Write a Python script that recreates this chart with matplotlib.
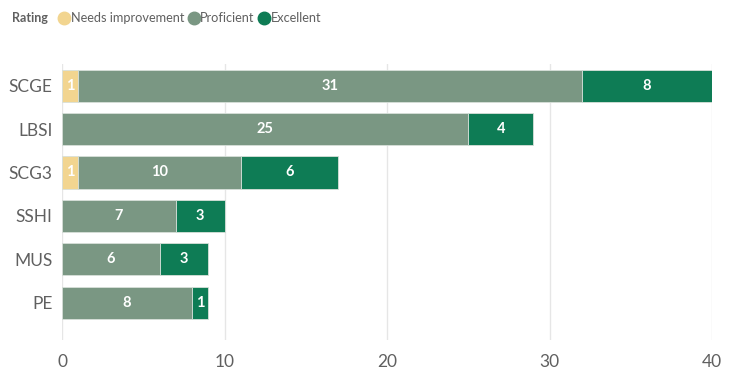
import matplotlib
matplotlib.use('Agg')
import matplotlib.pyplot as plt
from matplotlib.lines import Line2D
import numpy as np

# scores per subject
subjects = ['SCGE', 'LBSI', 'SCG3', 'SSHI', 'MUS', 'PE']
needs_improvement = [1, 0, 1, 0, 0, 0]
proficient = [31, 25, 10, 7, 6, 8]
excellent = [8, 4, 6, 3, 3, 1]

ratings = ['Needs improvement', 'Proficient', 'Excellent']
colores = ['#F2D590', '#7A9783', '#0E7C55']

plt.rcParams['font.family'] = ['Lato', 'DejaVu Sans']

fig = plt.figure(figsize=(7.37, 3.71), dpi=100)
ax = fig.add_axes([62/737, 1 - 340/371, 650/737, 276/371])

y = np.arange(len(subjects))
left = np.zeros(len(subjects))
for serie, cor in zip([needs_improvement, proficient, excellent], colores):
    vals = np.array(serie, dtype=float)
    ax.barh(y, vals, left=left, height=0.74, color=cor, edgecolor='#d8e0da', linewidth=0.6)
    for yi, (l, v) in enumerate(zip(left, vals)):
        if v > 0:
            ax.text(l + v / 2, yi, '%d' % v, ha='center', va='center',
                    color='white', fontsize=10.5, fontweight='bold')
    left = left + vals

ax.set_ylim(5.86, -0.5)
ax.set_xlim(0, 40)
ax.set_yticks(y)
ax.set_yticklabels(subjects)
ax.set_xticks([0, 10, 20, 30, 40])
ax.tick_params(axis='both', length=0, colors='#606060', labelsize=12.5)
ax.tick_params(axis='x', pad=10)
ax.tick_params(axis='y', pad=7)
ax.grid(axis='x', color='#e6e6e6', linewidth=1)
ax.set_axisbelow(True)
for s in ax.spines.values():
    s.set_visible(False)

fig.text(12/737, 1 - 18/371, 'Rating', ha='left', va='center',
         fontsize=9, fontweight='bold', color='#606060')
handles = [Line2D([], [], marker='o', linestyle='', markersize=9,
                  markerfacecolor=c, markeredgecolor=c) for c in colores]
fig.legend(handles, ratings, loc='center left', bbox_to_anchor=(58/737, 1 - 18/371),
           ncol=3, frameon=False, fontsize=9.2, handletextpad=0.0,
           columnspacing=0.25, labelcolor='#606060', borderpad=0, borderaxespad=0,
           handlelength=1.0)

fig.savefig('out.png', dpi=100)
